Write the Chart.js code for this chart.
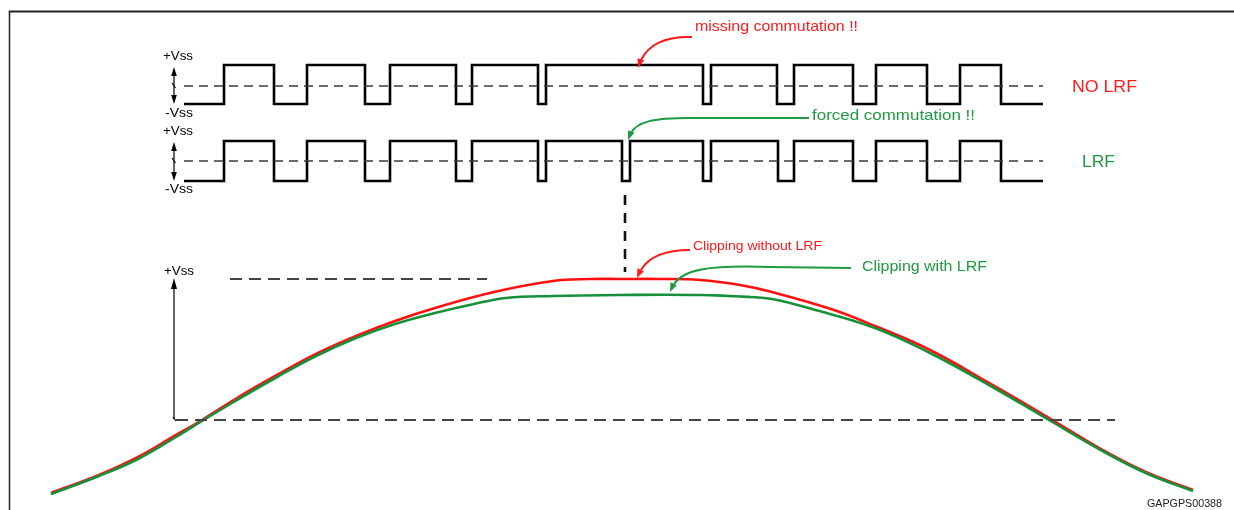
<!DOCTYPE html>
<html>
<head>
<meta charset="utf-8">
<script src="https://cdn.jsdelivr.net/npm/chart.js@4.4.1/dist/chart.umd.min.js"></script>
<style>
  html, body { margin: 0; padding: 0; background: #ffffff; }
  #c { display: block; }
</style>
</head>
<body>
<canvas id="c" width="1234" height="510"></canvas>
<script>
// ---- Data (figure coordinates) ----
// Square-wave transition instants (start, edges..., end); signal starts at -Vss
const noLrfEdges = [184, 224, 274, 307, 365, 390, 456, 472, 538, 546, 703, 711, 777, 794, 853, 876, 927, 960, 1001, 1043];
const lrfEdges   = [184, 224, 274, 307, 365, 390, 456, 472, 538, 546, 622, 630, 703, 711, 778, 794, 853, 876, 927, 960, 1001, 1043];
const noLrfLevels = [104, 65];   // [-Vss, +Vss]
const lrfLevels   = [181, 141];  // [-Vss, +Vss]
const noLrfMid = 86;
const lrfMid = 161;
const waveSpan = [184, 1043];

// Output signal curves
const redCurveX   = [51, 99, 138, 176, 202, 237, 277, 316, 356, 395, 435, 494, 553, 590, 620, 660, 700, 740, 772, 831, 875, 930, 989, 1049, 1108, 1148, 1193];
const redCurveY   = [493, 475, 457, 435, 420, 398, 375, 354, 336, 321, 308, 292, 281, 279, 279, 279, 280, 285, 292, 309, 326, 350, 383, 418, 453, 473, 490];
const greenCurveX = [51, 99, 138, 176, 202, 237, 277, 316, 356, 395, 435, 474, 506, 553, 620, 700, 750, 772, 812, 875, 930, 989, 1049, 1108, 1148, 1193];
const greenCurveY = [494, 476, 459, 437, 421, 400, 377, 356, 338, 324, 313, 304, 298, 296, 295, 295, 297, 299, 309, 328, 353, 385, 420, 454, 474, 491];

// Reference levels
const topRefY = 279, topRefX = [230, 487];
const bottomRefY = 420, bottomRefX = [176, 1115];
const markerX = 625, markerY = [195, 272];

// ---- Build chart datasets ----
function stepPoints(edges, levels) {
  const pts = edges.map((x, i) => ({ x, y: levels[i % 2] }));
  pts[pts.length - 1].y = pts[pts.length - 2].y;
  return pts;
}
const xy = (xs, ys) => xs.map((x, i) => ({ x, y: ys[i] }));

const waveStyle = { borderColor: '#000000', borderWidth: 2.6, stepped: 'before', pointRadius: 0, borderJoinStyle: 'miter', borderCapStyle: 'butt', fill: false };
const dashStyle = { borderColor: '#3a3a3a', borderWidth: 1.3, borderDash: [9, 6], pointRadius: 0, fill: false };

const datasets = [
  Object.assign({ label: 'NO LRF mid', data: [{x: waveSpan[0], y: noLrfMid}, {x: waveSpan[1], y: noLrfMid}] }, dashStyle),
  Object.assign({ label: 'LRF mid', data: [{x: waveSpan[0], y: lrfMid}, {x: waveSpan[1], y: lrfMid}] }, dashStyle),
  Object.assign({ label: 'NO LRF', data: stepPoints(noLrfEdges, noLrfLevels) }, waveStyle),
  Object.assign({ label: 'LRF', data: stepPoints(lrfEdges, lrfLevels) }, waveStyle),
  { label: '+Vss ref', data: [{x: topRefX[0], y: topRefY}, {x: topRefX[1], y: topRefY}], borderColor: '#444444', borderWidth: 1.8, borderDash: [12, 7], pointRadius: 0 },
  { label: 'bottom ref', data: [{x: bottomRefX[0], y: bottomRefY}, {x: bottomRefX[1], y: bottomRefY}], borderColor: '#444444', borderWidth: 1.8, borderDash: [12, 7], pointRadius: 0 },
  { label: 'marker', data: [{x: markerX, y: markerY[0]}, {x: markerX, y: markerY[1]}], borderColor: '#111111', borderWidth: 2.6, borderDash: [10, 8], pointRadius: 0 },
  { label: 'Clipping without LRF', data: xy(redCurveX, redCurveY), borderColor: '#ff1010', borderWidth: 2.6, pointRadius: 0, tension: 0.4, order: 2 },
  { label: 'Clipping with LRF', data: xy(greenCurveX, greenCurveY), borderColor: '#16913a', borderWidth: 2.6, pointRadius: 0, tension: 0.4, order: 1 }
];

const FONT = '"Liberation Sans", Arial, Helvetica, sans-serif';

const annotPlugin = {
  id: 'annot',
  afterDatasetsDraw(chart) {
    const ctx = chart.ctx;
    const X = v => chart.scales.x.getPixelForValue(v);
    const Y = v => chart.scales.y.getPixelForValue(v);

    function head(tx, ty, fx, fy, len, wid, color) {
      const a = Math.atan2(ty - fy, tx - fx);
      ctx.save();
      ctx.fillStyle = color;
      ctx.beginPath();
      ctx.moveTo(X(tx), Y(ty));
      ctx.lineTo(X(tx) - len * Math.cos(a) + wid * Math.sin(a), Y(ty) - len * Math.sin(a) - wid * Math.cos(a));
      ctx.lineTo(X(tx) - len * Math.cos(a) - wid * Math.sin(a), Y(ty) - len * Math.sin(a) + wid * Math.cos(a));
      ctx.closePath();
      ctx.fill();
      ctx.restore();
    }
    // text fitted to the width it spans in the reference
    function text(str, x, y, size, color, width) {
      ctx.save();
      ctx.font = size + 'px ' + FONT;
      ctx.fillStyle = color;
      ctx.textAlign = 'left';
      ctx.textBaseline = 'middle';
      const w = ctx.measureText(str).width;
      const s = width ? width / w : 1;
      ctx.translate(X(x), Y(y));
      ctx.scale(s, 1);
      ctx.fillText(str, 0, 0);
      ctx.restore();
    }
    function curveArrow(pts, color, lw) {
      ctx.save();
      ctx.strokeStyle = color;
      ctx.lineWidth = lw;
      ctx.beginPath();
      ctx.moveTo(X(pts[0][0]), Y(pts[0][1]));
      for (let i = 1; i < pts.length; i++) {
        const p = pts[i];
        if (p.length === 2) ctx.lineTo(X(p[0]), Y(p[1]));
        else ctx.bezierCurveTo(X(p[0]), Y(p[1]), X(p[2]), Y(p[3]), X(p[4]), Y(p[5]));
      }
      ctx.stroke();
      ctx.restore();
    }

    // frame
    ctx.save();
    ctx.strokeStyle = '#222222';
    ctx.lineWidth = 2;
    ctx.beginPath();
    ctx.moveTo(8.8, 11.5); ctx.lineTo(1234, 11.5);
    ctx.stroke();
    ctx.lineWidth = 1.5;
    ctx.beginPath();
    ctx.moveTo(9.5, 11); ctx.lineTo(9.5, 510);
    ctx.stroke();
    ctx.restore();

    // small double arrows with break mark (square-wave amplitude)
    function ampArrow(top, bottom, mid) {
      ctx.save();
      ctx.strokeStyle = '#000';
      ctx.lineWidth = 1.2;
      ctx.beginPath();
      ctx.moveTo(X(174), Y(top + 6)); ctx.lineTo(X(174), Y(bottom - 6));
      ctx.stroke();
      ctx.beginPath();
      ctx.moveTo(X(172), Y(mid - 3)); ctx.lineTo(X(175.5), Y(mid + 2));
      ctx.stroke();
      ctx.restore();
      head(174, top, 174, top + 10, 9, 2.8, '#000');
      head(174, bottom, 174, bottom - 10, 9, 2.8, '#000');
    }
    ampArrow(67, 104, 86);
    ampArrow(142, 181, 161);

    // big arrow for lower plot
    ctx.save();
    ctx.strokeStyle = '#000';
    ctx.lineWidth = 1.2;
    ctx.beginPath();
    ctx.moveTo(X(174), Y(419)); ctx.lineTo(X(174), Y(286));
    ctx.stroke();
    ctx.beginPath();
    ctx.moveTo(X(173), Y(417)); ctx.lineTo(X(176), Y(421));
    ctx.stroke();
    ctx.restore();
    head(174, 278, 174, 290, 11, 3, '#000');

    // Vss labels
    text('+Vss', 163, 56, 13, '#000', 30);
    text('-Vss', 165, 113, 13, '#000', 28);
    text('+Vss', 163, 131, 13, '#000', 30);
    text('-Vss', 165, 189, 13, '#000', 28);
    text('+Vss', 164, 271, 13, '#000', 30);

    const red = '#ff1a1a', green = '#1e9a40';
    // waveform labels
    text('NO LRF', 1072, 87, 17, red, 65);
    text('LRF', 1082, 162, 17, green, 33);

    // missing commutation
    text('missing commutation !!', 695, 27, 15, red, 163);
    curveArrow([[692, 37], [662, 36, 648, 46, 641, 60]], red, 2);
    head(638, 68, 641, 59, 9, 3.5, red);

    // forced commutation
    text('forced commutation !!', 812, 116, 15, green, 163);
    curveArrow([[809, 118], [690, 118], [652, 118, 637, 122, 631, 133]], green, 2);
    head(628, 140, 631, 132, 9, 3.5, green);

    // clipping labels
    text('Clipping without LRF', 693, 246, 13, red, 129);
    curveArrow([[690, 250], [662, 250, 648, 258, 641, 270]], red, 2);
    head(637, 278, 641, 269, 9, 3.5, red);

    text('Clipping with LRF', 862, 267, 15, green, 125);
    curveArrow([[851, 268], [770, 267], [705, 265, 684, 270, 674, 284]], green, 2);
    head(670, 292, 674, 283, 9, 3.5, green);

    text('GAPGPS00388', 1147, 504, 10.5, '#222', 75);
  }
};

new Chart(document.getElementById('c'), {
  type: 'line',
  data: { datasets },
  options: {
    responsive: false,
    animation: false,
    devicePixelRatio: 1,
    layout: { padding: 0 },
    plugins: { legend: { display: false }, title: { display: false }, tooltip: { enabled: false } },
    events: [],
    scales: {
      x: { type: 'linear', min: 0, max: 1234, display: false },
      y: { type: 'linear', min: 0, max: 510, reverse: true, display: false }
    }
  },
  plugins: [annotPlugin]
});
</script>
</body>
</html>
